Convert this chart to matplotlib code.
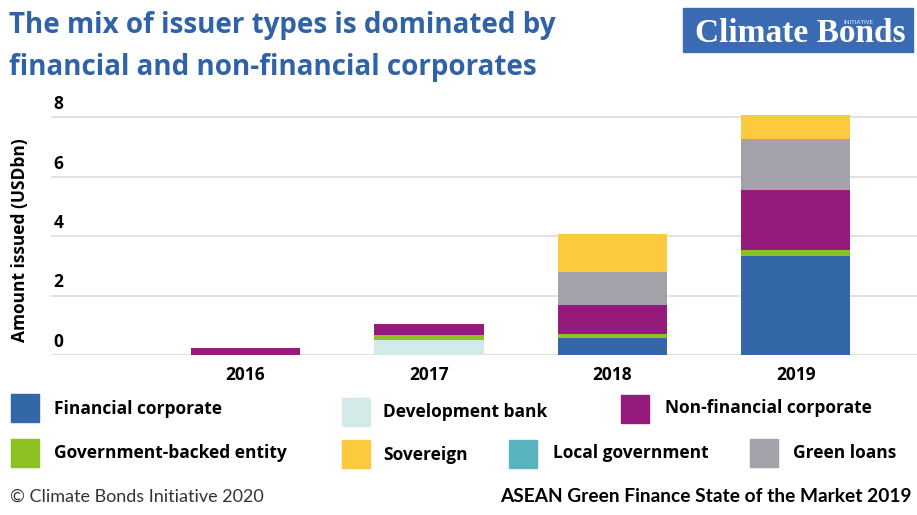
import matplotlib.pyplot as plt
import matplotlib.patches as mpatches
from matplotlib.transforms import offset_copy
import numpy as np

W, H = 917, 515

years = ['2016', '2017', '2018', '2019']
financial = [0, 0, 0.58, 3.34]
dev_bank = [0, 0.50, 0, 0]
gov_backed = [0, 0.17, 0.12, 0.18]
non_financial = [0.25, 0.37, 0.98, 2.02]
local_gov = [0, 0, 0, 0]
green_loans = [0, 0, 1.10, 1.74]
sovereign = [0, 0, 1.28, 0.80]
yticks = [0, 2, 4, 6, 8]

c_fin = '#3467a8'
c_dev = '#d4eae9'
c_gov = '#8cc121'
c_nonfin = '#951a7c'
c_sov = '#fdc93f'
c_local = '#5ab4c0'
c_green = '#a3a2aa'

plt.rcParams['font.family'] = ['Open Sans', 'DejaVu Sans']


def fx(px):
    return px / W


def fy(py):
    return 1 - py / H


fig = plt.figure(figsize=(W / 100, H / 100), dpi=100)
ax = fig.add_axes([fx(51), fy(355), fx(917) - fx(51), fy(111.5) - fy(355)])

x = np.arange(len(years))
width = 0.595
stack = [(financial, c_fin), (dev_bank, c_dev), (gov_backed, c_gov),
         (non_financial, c_nonfin), (local_gov, c_local),
         (green_loans, c_green), (sovereign, c_sov)]
bottom = np.zeros(len(years))
for vals, col in stack:
    ax.bar(x, vals, width, bottom=bottom, color=col, zorder=3)
    bottom = bottom + np.array(vals)

ax.set_xlim(-1.06, 3.66)
ax.set_ylim(0, 8.2)
ax.set_yticks(yticks)
ax.yaxis.grid(True, color='#dcdcdc', linewidth=1.2, zorder=0)
ax.tick_params(axis='y', length=0, labelleft=False)
ax.tick_params(axis='x', length=0, pad=8)
ax.set_xticks(x)
ax.set_xticklabels(years, fontsize=12.5, fontweight='bold')
for s in ax.spines.values():
    s.set_visible(False)

# y tick labels sit above their gridlines
tr = offset_copy(ax.get_yaxis_transform(), fig=fig, x=2, y=3, units='points')
for v in yticks:
    ax.text(0, v, str(v), transform=tr, ha='left', va='bottom',
            fontsize=12.5, fontweight='bold')

fig.text(fx(20), fy(240), 'Amount issued (USDbn)', rotation=90,
         ha='center', va='center', fontsize=12.5, fontweight='bold')

# title
fig.text(fx(9), fy(25), 'The mix of issuer types is dominated by',
         fontsize=20, fontweight='bold', color='#2f62a6', va='center')
fig.text(fx(9), fy(67), 'financial and non-financial corporates',
         fontsize=20, fontweight='bold', color='#2f62a6', va='center')

# logo
fig.patches.append(mpatches.Rectangle((fx(683), fy(52)), fx(230), fy(8) - fy(52),
                                      transform=fig.transFigure,
                                      color='#3a6bb3', zorder=1))
fig.text(fx(800), fy(33), 'Climate Bonds', ha='center', va='center',
         family='Liberation Serif', fontweight='bold', fontsize=24,
         color='white', zorder=2)
fig.text(fx(858), fy(22), 'INITIATIVE', ha='center', va='center',
         fontsize=4.5, color='white', zorder=2)

# legend
legend = [
    ('Financial corporate', c_fin, 11, 394, 54, 409),
    ('Development bank', c_dev, 342, 398, 383, 412),
    ('Non-financial corporate', c_nonfin, 621, 395, 665, 408),
    ('Government-backed entity', c_gov, 11, 439, 54, 453),
    ('Sovereign', c_sov, 342, 440, 383, 455),
    ('Local government', c_local, 509, 440, 553, 453),
    ('Green loans', c_green, 750, 439, 793, 453),
]
for label, col, sx, sy, tx, ty in legend:
    fig.patches.append(mpatches.Rectangle((fx(sx), fy(sy + 28)), fx(28), fy(sy) - fy(sy + 28),
                                          transform=fig.transFigure, color=col))
    fig.text(fx(tx), fy(ty), label, ha='left', va='center',
             fontsize=12.5, fontweight='bold')

# footer
fig.text(fx(10), fy(497), '\u00a9 Climate Bonds Initiative 2020', ha='left',
         va='center', fontsize=13, color='#333333', fontweight='normal',
         family='Lato')
fig.text(fx(912), fy(497), 'ASEAN Green Finance State of the Market 2019',
         ha='right', va='center', fontsize=13.8, fontweight='bold',
         family='Lato')

fig.savefig('out.png', dpi=100)
